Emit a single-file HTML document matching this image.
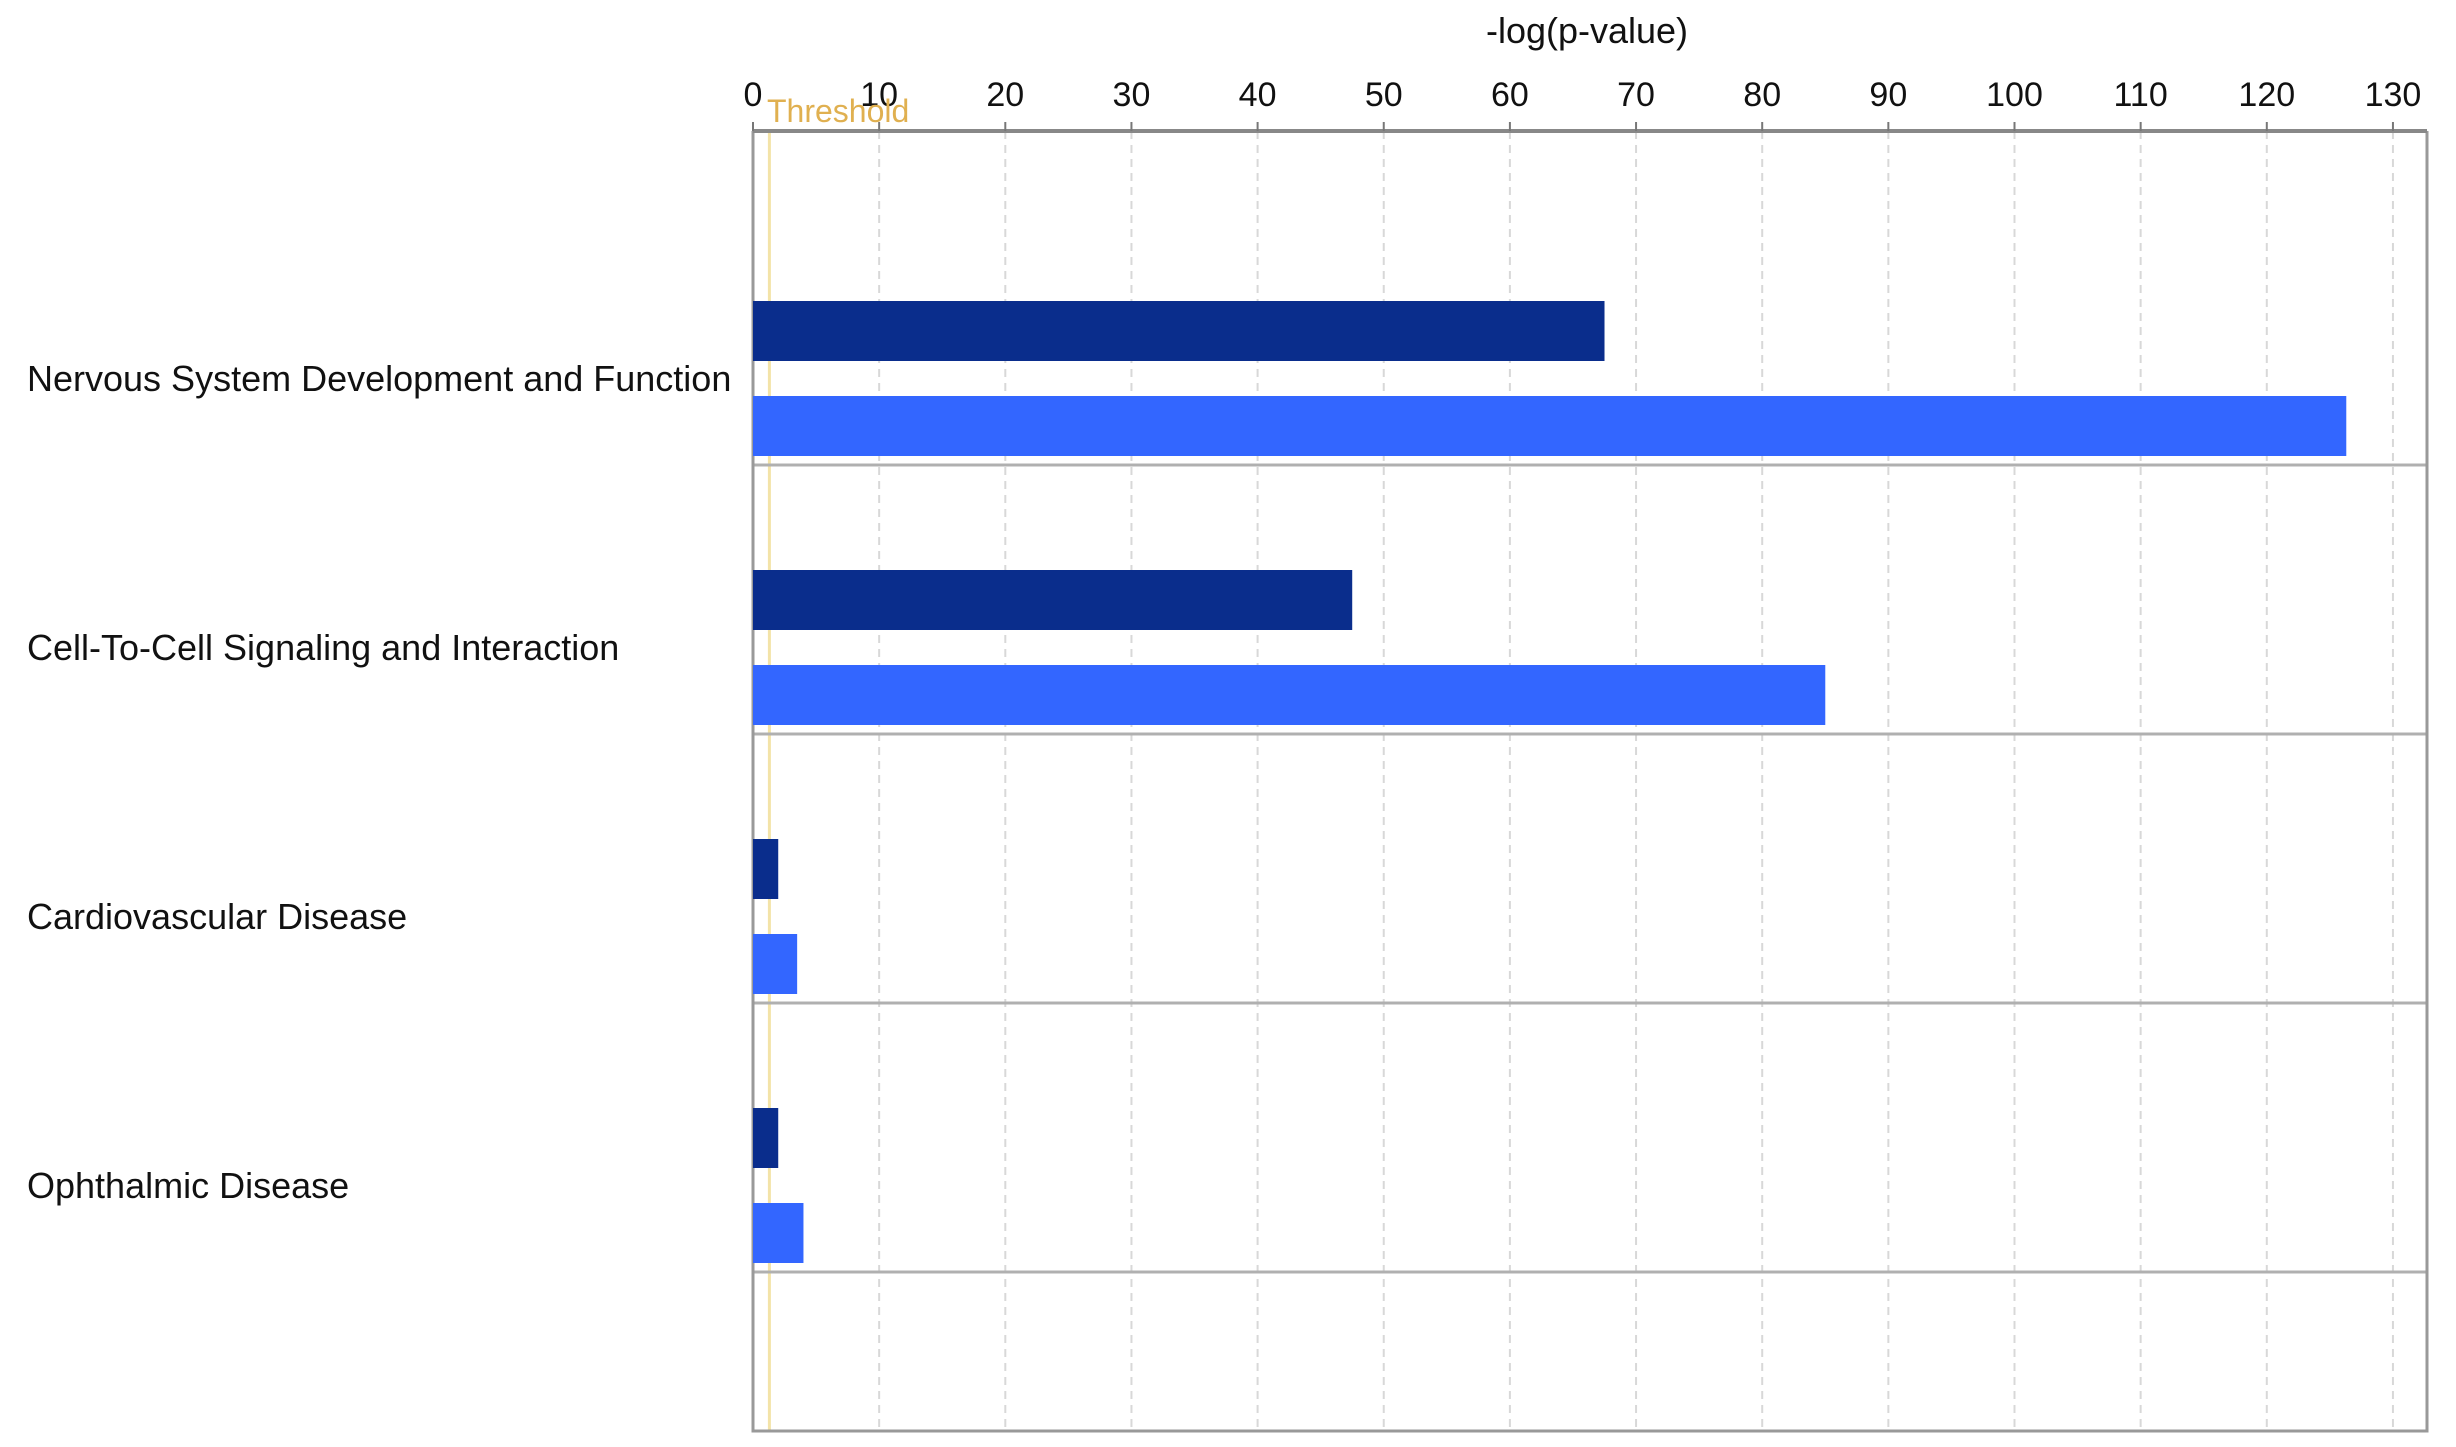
<!DOCTYPE html>
<html><head><meta charset="utf-8"><style>
html,body{margin:0;padding:0;background:#fff;}
svg{display:block;font-family:"Liberation Sans","DejaVu Sans",sans-serif;}
</style></head><body>
<svg id="chart" width="2456" height="1447" viewBox="0 0 2456 1447" xmlns="http://www.w3.org/2000/svg"></svg>
<script>
const categories = ["Nervous System Development and Function","Cell-To-Cell Signaling and Interaction","Cardiovascular Disease","Ophthalmic Disease"];
const seriesDark = [67.5, 47.5, 2, 2];
const seriesLight = [126.3, 85, 3.5, 4];
const tickValues = [0,10,20,30,40,50,60,70,80,90,100,110,120,130];
const thresholdValue = 1.3;

const NS="http://www.w3.org/2000/svg";
const svg=document.getElementById('chart');
const x0=753, pxPerUnit=12.615;
function xs(v){return x0+v*pxPerUnit;}
function bandTop(i){return 301+269*i;}
function mk(tag,attrs,parent){const e=document.createElementNS(NS,tag);for(const k in attrs)e.setAttribute(k,attrs[k]);(parent||svg).appendChild(e);return e;}

// gridlines
tickValues.forEach(v=>{
  if(v===0)return;
  const g=mk('line',{x1:xs(v),x2:xs(v),y1:131,y2:1431,stroke:'#d8d8d8','stroke-width':2,'stroke-dasharray':'8,6'});
  
  
});
// threshold line
const th=mk('line',{x1:xs(thresholdValue),x2:xs(thresholdValue),y1:131,y2:1431,stroke:'#f3e3a8','stroke-width':3});


// separators
categories.forEach((c,i)=>{
  const s=mk('line',{x1:753,x2:2427,y1:465+269*i,y2:465+269*i,stroke:'#b0b0b0','stroke-width':3});
  
  
});
// plot frame
const fr=mk('path',{d:'M753,131 V1431 H2427 V131',fill:'none',stroke:'#999','stroke-width':3});


const ax=mk('line',{x1:753,x2:2427,y1:131,y2:131,stroke:'#888','stroke-width':4});


// ticks & labels
tickValues.forEach(v=>{
  const t=mk('line',{x1:xs(v),x2:xs(v),y1:122,y2:131,stroke:'#777','stroke-width':2});
  
  
  const l=mk('text',{x:xs(v),y:106,'text-anchor':'middle','font-size':34,fill:'#111'});
  l.textContent=v;
  
  
});
const tl=mk('text',{x:1587,y:43,'text-anchor':'middle','font-size':36,fill:'#111'});
tl.textContent='-log(p-value)';


const tt=mk('text',{x:767,y:122,'font-size':32,fill:'#e0b050'});
tt.textContent='Threshold';


// bars
categories.forEach((c,i)=>{
  const top=bandTop(i);
  const b1=mk('rect',{x:x0,y:top,width:xs(seriesDark[i])-x0,height:60,fill:'#0a2d8c'});
  
  
  const b2=mk('rect',{x:x0,y:top+95,width:xs(seriesLight[i])-x0,height:60,fill:'#3366ff'});
  
  
  const lab=mk('text',{x:27,y:top+90,'font-size':36,fill:'#111'});
  lab.textContent=c;
  
  
});
</script>
</body></html>
